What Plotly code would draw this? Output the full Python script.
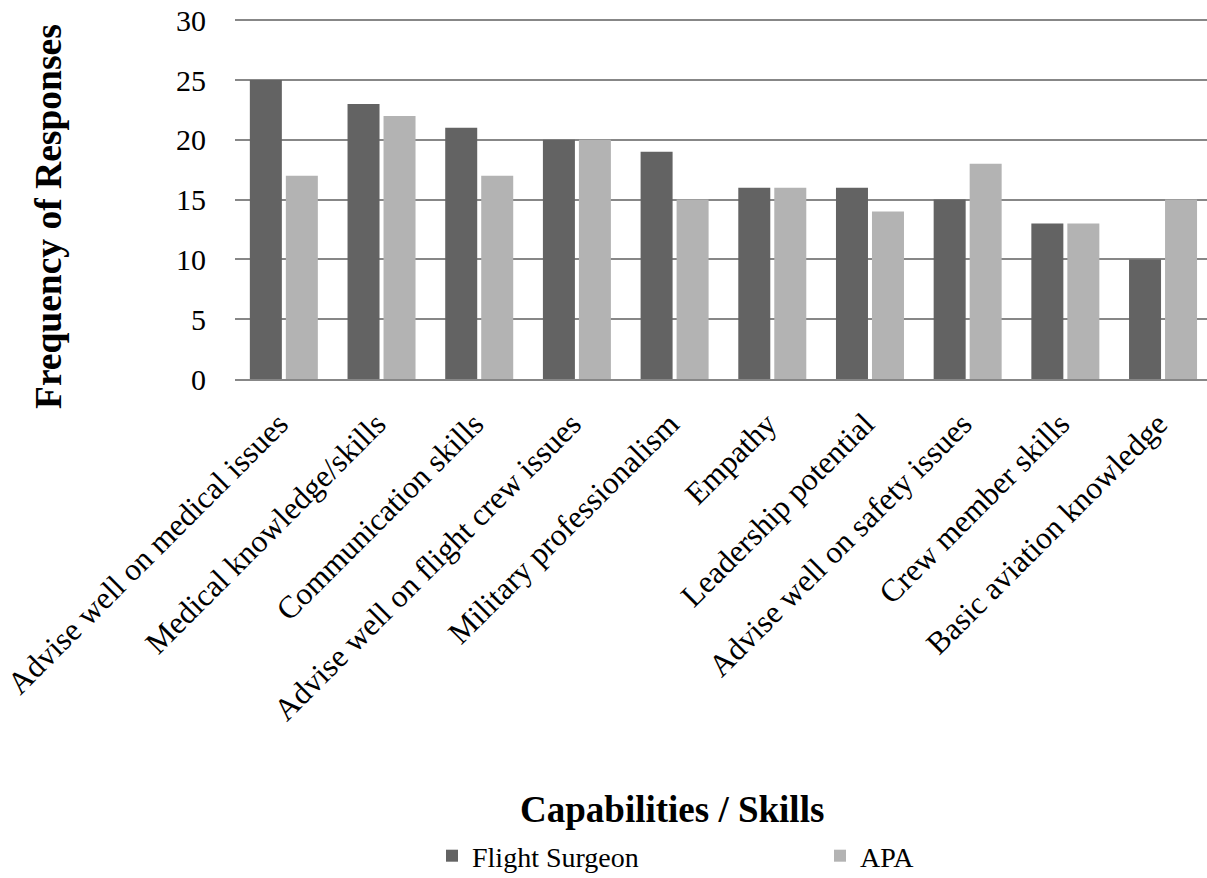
import plotly.graph_objects as go

# Survey responses: capabilities / skills ranked by flight surgeons and APAs
categories = [
    "Advise well on medical issues",
    "Medical knowledge/skills",
    "Communication skills",
    "Advise well on flight crew issues",
    "Military professionalism",
    "Empathy",
    "Leadership potential",
    "Advise well on safety issues",
    "Crew member skills",
    "Basic aviation knowledge",
]
flight_surgeon = [25, 23, 21, 20, 19, 16, 16, 15, 13, 10]
apa = [17, 22, 17, 20, 15, 16, 14, 18, 13, 15]
y_ticks = [0, 5, 10, 15, 20, 25, 30]

FONT = "Liberation Serif, Times New Roman, serif"
W, H = 1207, 878
M_L, M_R, M_T, M_B = 235, 0, 19, 499
PW, PH = W - M_L - M_R, H - M_T - M_B


def px_x(px):
    return (px - M_L) / PW


def px_y(py):
    return (H - M_B - py) / PH


fig = go.Figure()
fig.add_trace(go.Bar(name="Flight Surgeon", x=categories, y=flight_surgeon,
                     marker=dict(color="#636363", line=dict(width=0))))
fig.add_trace(go.Bar(name="APA", x=categories, y=apa,
                     marker=dict(color="#b3b3b3", line=dict(width=0))))

fig.update_layout(
    width=W, height=H,
    margin=dict(l=M_L, r=M_R, t=M_T, b=M_B, pad=0, autoexpand=False),
    paper_bgcolor="white", plot_bgcolor="white",
    barmode="group", bargap=0.263, bargroupgap=0.111,
    font=dict(family=FONT, color="black", size=30),
    showlegend=True,
    legend=dict(
        orientation="h", x=px_x(432), xanchor="left",
        y=px_y(856), yanchor="middle",
        entrywidth=343, entrywidthmode="pixels",
        font=dict(family=FONT, size=28, color="black"),
        bgcolor="rgba(0,0,0,0)",
    ),
    xaxis=dict(
        range=[-0.5, 9.45], tickangle=-45, showgrid=False, automargin=False,
        showline=True, linecolor="#878787", linewidth=2,
        ticks="", ticklabelstandoff=12, ticklabelshift=-5,
        tickfont=dict(family=FONT, size=31.5, color="black"),
    ),
    yaxis=dict(
        # a little headroom above 30 so the top gridline is not clipped
        range=[0, 30.1], tickvals=y_ticks, ticktext=[str(v) for v in y_ticks],
        showgrid=True, gridcolor="#878787", gridwidth=1.5, automargin=False,
        zeroline=False, showline=False, ticks="", ticklabelstandoff=28,
        tickfont=dict(family=FONT, size=30, color="black"),
    ),
    annotations=[
        dict(text="<b>Capabilities / Skills</b>", xref="paper", yref="paper",
             x=px_x(672), y=px_y(810),
             xanchor="center", yanchor="middle", showarrow=False,
             font=dict(family=FONT, size=37, color="black")),
        dict(text="<b>Frequency of Responses</b>", xref="paper", yref="paper",
             x=px_x(48), y=px_y(217),
             xanchor="center", yanchor="middle", textangle=-90, showarrow=False,
             font=dict(family=FONT, size=37.5, color="black")),
    ],
)

fig.write_html("out.html")
